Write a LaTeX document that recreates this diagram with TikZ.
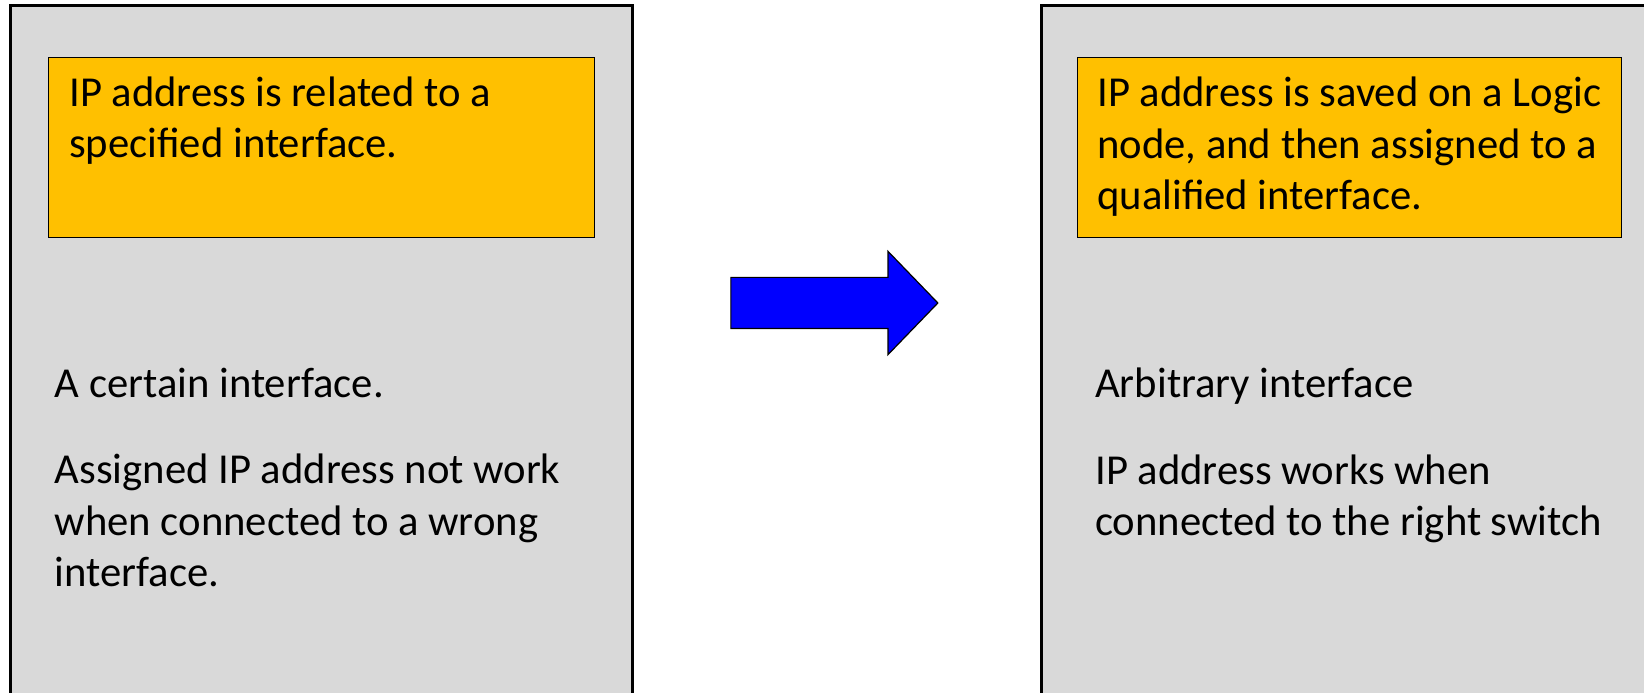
\documentclass[tikz,border=0pt]{standalone}
\usepackage{fontspec}
\setmainfont{Carlito}
\usepackage{tikz}
\usetikzlibrary{shapes,arrows,positioning,calc}

\begin{document}
\begin{tikzpicture}[
    x=0.75pt, y=0.75pt,
    panel/.style={rectangle, draw=black, line width=2.25pt, fill=panelgray, anchor=north west, minimum width=466.5pt, minimum height=525pt, inner sep=0pt},
    note/.style={rectangle, draw=black, line width=0.9pt, fill=noteorange, anchor=north west, minimum height=135pt, inner sep=0pt},
    txt/.style={anchor=base west, align=left, inner sep=0pt, font=\fontsize{32}{38.5}\selectfont},
    bigarrow/.style={single arrow, draw=black, line width=0.9pt, fill=arrowblue, text height=37.5pt, text depth=0pt, minimum height=155.25pt, single arrow head extend=19.5pt, single arrow tip angle=92, inner sep=0pt}
]
\definecolor{panelgray}{HTML}{D9D9D9}
\definecolor{noteorange}{HTML}{FFC000}
\definecolor{arrowblue}{HTML}{0000FF}

\useasboundingbox (0,0) rectangle (1644,692);
\clip (0,0) rectangle (1644,692);

% Panels
\node[panel] (oldpanel) at (8.5,687.5) {};
\node[panel] (newpanel) at (1039.5,687.5) {};

% Notes
\node[note, minimum width=409.5pt] (oldnote) at (48,635) {};
\node[note, minimum width=408pt] (newnote) at (1077,635) {};

% Texts (anchored at the baseline of the last line)
\node[txt] (oldnotetext) at (69,534) {IP address is related to a\\specified interface.};
\node[txt] (newnotetext) at (1097,482.5) {IP address is saved on a Logic\\node, and then assigned to a\\qualified interface.};
\node[txt] (oldiface) at (54.5,294) {A certain interface.};
\node[txt] (oldwork) at (54.5,105.5) {Assigned IP address not work\\when connected to a wrong\\interface.};
\node[txt] (newiface) at (1095,294) {Arbitrary interface};
\node[txt] (newwork) at (1095,156.5) {IP address works when\\connected to the right switch};

% Arrow
\node[bigarrow] (change) at (822,389) {};

\end{tikzpicture}
\end{document}
